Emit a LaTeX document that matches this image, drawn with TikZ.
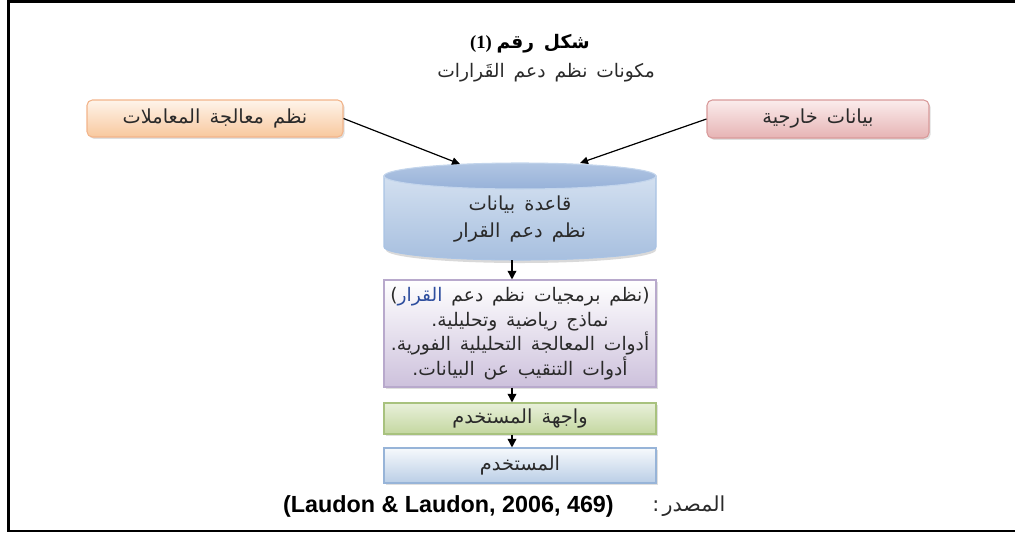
\documentclass[tikz,border=0pt]{standalone}
\usepackage{fontspec}
\setmainfont{Liberation Sans}
\newfontfamily\serifbold{Liberation Serif}
\newfontfamily\ar[Script=Arabic, WordSpace=1.5]{DejaVu Sans}
\newfontfamily\lat{DejaVu Sans}
\TeXXeTstate=1
\usetikzlibrary{shadows,arrows.meta}

% colours of the boxes
\definecolor{tpsline}{HTML}{F2B48A}\definecolor{tpstop}{HTML}{FEF4EA}\definecolor{tpsbot}{HTML}{F8C89E}
\definecolor{extline}{HTML}{D99A9A}\definecolor{exttop}{HTML}{FBECEC}\definecolor{extbot}{HTML}{E6B3B4}
\definecolor{swline}{HTML}{B8A9CC}\definecolor{swtop}{HTML}{FFFFFF}\definecolor{swbot}{HTML}{CDC1DC}
\definecolor{uiline}{HTML}{A8C27E}\definecolor{uitop}{HTML}{E8F0DA}\definecolor{uibot}{HTML}{C4D7A0}
\definecolor{usline}{HTML}{97B4D8}\definecolor{ustop}{HTML}{F6F9FC}\definecolor{usbot}{HTML}{BACEE6}
\definecolor{dbline}{HTML}{A9C3E4}\definecolor{dbtop}{HTML}{D3E0F0}\definecolor{dbbot}{HTML}{A7BFDF}
\definecolor{dbcap}{HTML}{97B2D9}
\definecolor{txt}{HTML}{2A2A2A}
\definecolor{hilite}{HTML}{2E4E9E}

\tikzset{
  box/.style={draw, line width=0.8pt, inner sep=0pt, align=center,
    font=\ar\fontsize{14.5}{18.4}\selectfont, text=txt,
    drop shadow={opacity=0.25, shadow xshift=1.2pt, shadow yshift=-1.4pt}},
  roundbox/.style={box, rounded corners=4pt},
  arr/.style={-{Triangle[length=6.5pt,width=6.5pt]}, line width=1.1pt},
  slant/.style={-{Triangle[length=6pt,width=5.5pt]}, line width=0.9pt},
}

\begin{document}
\begin{tikzpicture}[x=0.75pt,y=-0.75pt]
\useasboundingbox (0,0) rectangle (1015,533);

% frame
\draw[line width=2.2pt] (1015,1.5) -- (8.5,1.5) -- (8.5,531) -- (1015,531);

% heading
\node (title) at (530,44) {\serifbold\bfseries\fontsize{14}{16}\selectfont (1)\ {\ar\bfseries\beginR شكل رقم\endR}};
\node (subtitle) at (546,73) {\ar\fontsize{14}{16}\selectfont\color{txt}\beginR مكونات نظم دعم القَرارات\endR};

% input boxes
\node[roundbox, minimum width=192pt, minimum height=27.75pt, draw=tpsline, top color=tpstop, bottom color=tpsbot]
  (tps) at (215,118.5) {\beginR نظم معالجة المعاملات\endR};
\node[roundbox, minimum width=166.5pt, minimum height=28.5pt, draw=extline, top color=exttop, bottom color=extbot]
  (ext) at (818,119) {\beginR بيانات خارجية\endR};

% database cylinder
\fill[black, opacity=0.15] (386,178) -- (386,250) arc[start angle=180, end angle=0, x radius=135, y radius=13] -- (656,178) -- cycle;
\shade[top color=dbtop, bottom color=dbbot, draw=dbline, line width=0.8pt]
  (384,176) -- (384,247) arc[start angle=180, end angle=0, x radius=136, y radius=13] -- (656,176) -- cycle;
\shade[top color=dbcap!75!white, bottom color=dbcap, draw=dbline!70!white, line width=0.8pt]
  (520,176) ellipse[x radius=136, y radius=13];
\node[font=\ar\fontsize{14.5}{20}\selectfont, text=txt, align=center] (db) at (520,219)
  {\beginR قاعدة بيانات\endR\\ \beginR نظم دعم القرار\endR};
\coordinate (dbL) at (460,164);
\coordinate (dbR) at (580,163);
\coordinate (dbB) at (512,260);
\coordinate (ax) at (512,0);

% stacked boxes
\node[box, font=\ar\fontsize{14}{18.4}\selectfont, minimum width=204pt, minimum height=80.25pt,
      draw=swline, top color=swtop, bottom color=swbot]
  (sw) at (520,333.5)
  {{\lat(}{\color{hilite}\beginR القرار\endR}\ \beginR نظم برمجيات نظم دعم\endR{\lat)}\\
   {\lat.}\beginR نماذج رياضية وتحليلية\endR\\
   {\lat.}\beginR أدوات المعالجة التحليلية الفورية\endR\\
   {\lat.}\beginR أدوات التنقيب عن البيانات\endR};
\node[box, minimum width=204pt, minimum height=23.25pt, draw=uiline, top color=uitop, bottom color=uibot]
  (ui) at (520,418.5) {\beginR واجهة المستخدم\endR};
\node[box, minimum width=204pt, minimum height=26.25pt, draw=usline, top color=ustop, bottom color=usbot]
  (user) at (520,465.5) {\beginR المستخدم\endR};

% connectors
\draw[slant] (tps.east) -- (dbL);
\draw[slant] (ext.west) -- (dbR);
\draw[arr] (dbB) -- (sw.north -| ax);
\draw[arr] (sw.south -| ax) -- (ui.north -| ax);
\draw[arr] (ui.south -| ax) -- (user.north -| ax);

% source line
\node[anchor=east, inner sep=0pt] (source) at (614,506)
  {\bfseries\fontsize{17.5}{19}\selectfont (Laudon \& Laudon, 2006, 469)};
\node[anchor=west, inner sep=0pt, text=txt] (sourcelabel) at (652,506)
  {\ar\fontsize{15.5}{17}\selectfont{\lat:}\,\beginR المصدر\endR};
\end{tikzpicture}
\end{document}
